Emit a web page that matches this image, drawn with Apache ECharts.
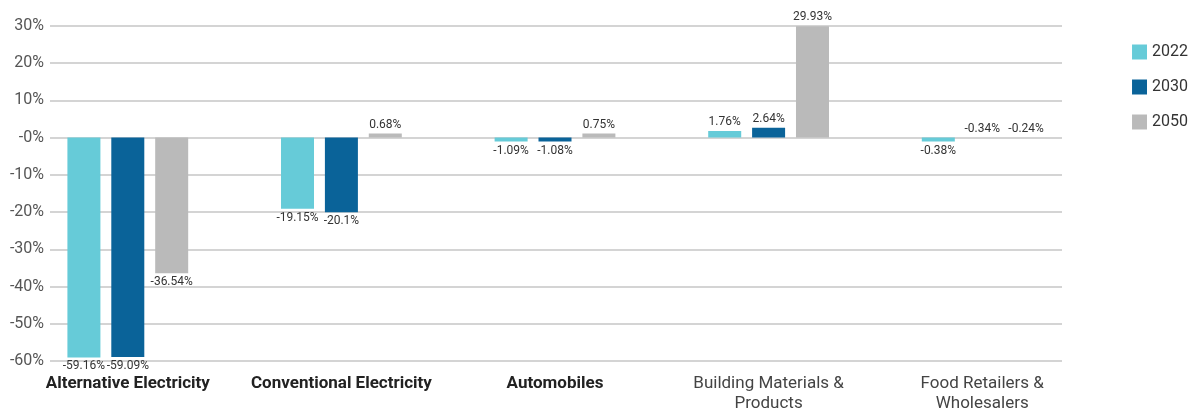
<!DOCTYPE html>
<html>
<head>
<meta charset="utf-8">
<script src="https://cdn.jsdelivr.net/npm/echarts@6/dist/echarts.min.js"></script>
<style>
  html, body { margin: 0; padding: 0; background: #fff; }
  #main { width: 1199px; height: 412px; }
</style>
</head>
<body>
<div id="main"></div>
<script>
// categories and values
var categories = ['Alternative Electricity', 'Conventional Electricity', 'Automobiles',
  'Building Materials &\nProducts', 'Food Retailers &\nWholesalers'];
var years = ['2022', '2030', '2050'];
var values2022 = [-59.16, -19.15, -1.09, 1.76, -0.38];
var values2030 = [-59.09, -20.1, -1.08, 2.64, -0.34];
var values2050 = [-36.54, 0.68, 0.75, 29.93, -0.24];
var colors = ['#66cbd8', '#0a6399', '#bababa'];

// in the picture two tiny bars are not drawn, only their labels (above the zero line)
var hiddenBars = { '2030-4': true, '2050-4': true };

function makeData(vals, year) {
  return vals.map(function (v, i) {
    var hidden = hiddenBars[year + '-' + i];
    return {
      value: v,
      itemStyle: hidden ? { color: 'rgba(0,0,0,0)' } : undefined,
      label: { position: (v < 0 && !hidden) ? 'bottom' : 'top' }
    };
  });
}

var chart = echarts.init(document.getElementById('main'));
var allVals = [values2022, values2030, values2050];

chart.setOption({
  animation: false,
  color: colors,
  textStyle: { fontFamily: 'Roboto' },
  legend: {
    orient: 'vertical',
    right: 6,
    top: 39,
    itemWidth: 15,
    itemHeight: 15,
    itemGap: 19,
    icon: 'rect',
    textStyle: { fontSize: 16, color: '#333' },
    data: years
  },
  grid: [
    { left: 50, right: 137, top: 26, bottom: 51 },
    { left: 21, right: 110, top: 26, bottom: 51 }
  ],
  xAxis: [
    { gridIndex: 0, type: 'value', show: false },
    {
      gridIndex: 1,
      type: 'category',
      data: categories,
      axisLine: { show: false },
      axisTick: { show: false },
      axisLabel: {
        margin: 13,
        interval: 0,
        formatter: function (value, idx) {
          var tag = idx < 3 ? '{b|' : '{n|';
          return tag + value.split('\n').join('}\n' + tag) + '}';
        },
        rich: {
          b: { fontSize: 17, fontWeight: 'bold', color: '#222', lineHeight: 20 },
          n: { fontSize: 17, color: '#444', lineHeight: 20 }
        }
      }
    }
  ],
  yAxis: [
    {
      gridIndex: 0,
      type: 'value',
      min: -60,
      max: 30,
      interval: 10,
      axisLine: { show: false },
      axisTick: { show: false },
      axisLabel: {
        margin: 6,
        fontSize: 16,
        color: '#555',
        formatter: function (v) { return (v === 0 ? '-0' : v) + '%'; }
      },
      splitLine: { lineStyle: { color: '#d4d4d4', width: 2 } }
    },
    { gridIndex: 1, type: 'value', min: -60, max: 30, interval: 10, show: false, splitLine: { show: false } }
  ],
  series: years.map(function (y, k) {
    return {
      name: y,
      type: 'bar',
      xAxisIndex: 1,
      yAxisIndex: 1,
      barWidth: 33,
      barGap: '33%',
      barMinHeight: 4,
      data: makeData(allVals[k], y),
      label: {
        show: true,
        fontSize: 12,
        color: '#333',
        distance: 3,
        formatter: function (p) { return p.value + '%'; }
      }
    };
  })
});
</script>
</body>
</html>
